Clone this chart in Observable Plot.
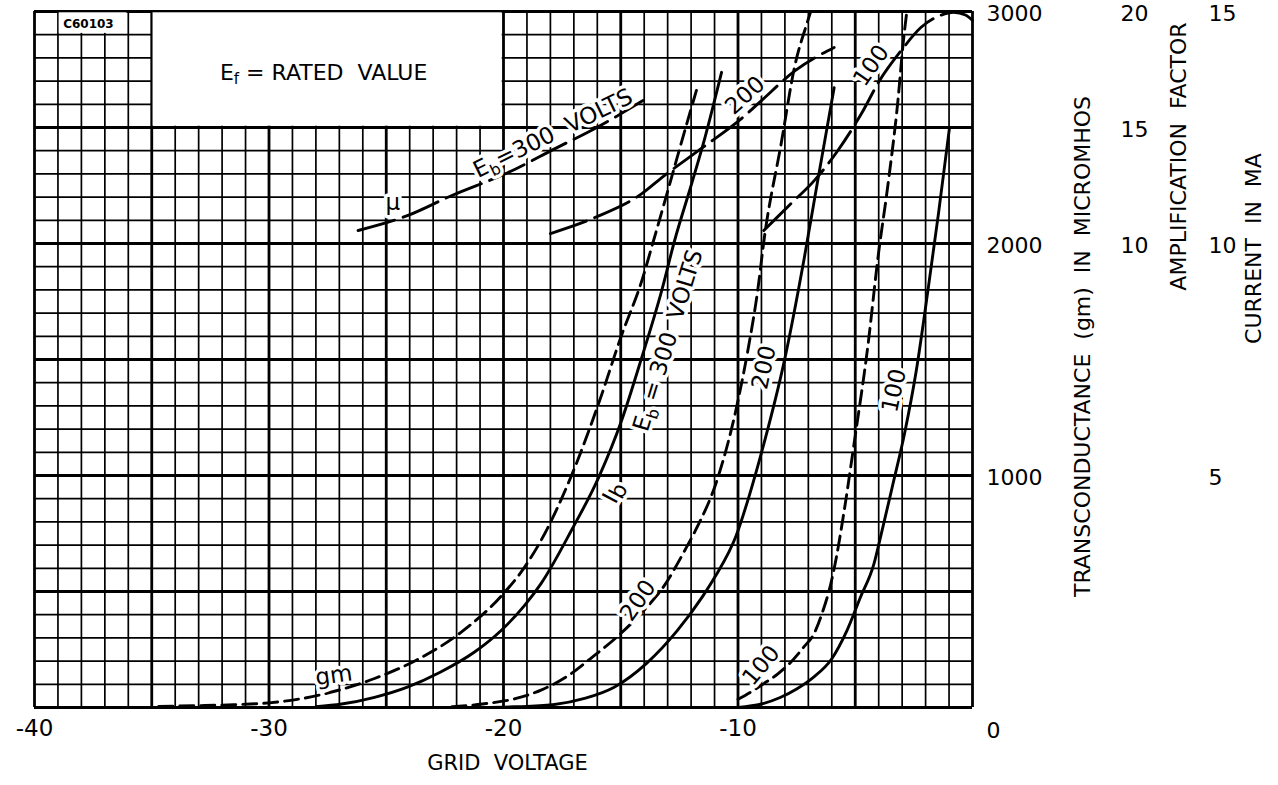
<!DOCTYPE html>
<html><head><meta charset="utf-8">
<script src="https://cdn.jsdelivr.net/npm/d3@7"></script>
<script src="https://cdn.jsdelivr.net/npm/@observablehq/plot@0.6"></script>
<style>
html,body{margin:0;padding:0;background:#fff;}
#chart svg{display:block}
#chart svg text{white-space:pre}
</style></head><body><div id="chart"></div>
<script>
// ---- Transconductance gm (micromhos) vs grid voltage (dashed) ----
const gm300V = [-34.7, -33.0, -31.5, -30.0, -28.8, -27.5, -25.5, -23.7, -21.8, -20.1, -19.1, -18.4, -17.1, -15.9, -15.0, -14.1, -13.6, -13.0, -12.4, -11.75];
const gm300  = [5, 8, 12, 20, 35, 62, 125, 205, 325, 480, 605, 720, 1000, 1323, 1595, 1840, 2013, 2225, 2440, 2668];
const gm200V = [-22.2, -20.9, -19.5, -18.4, -17.2, -16.3, -15.0, -14.0, -13.2, -12.2, -11.75, -10.9, -10.0, -9.58, -9.16, -8.87, -8.16, -7.59, -7.02, -6.9];
const gm200  = [3, 15, 38, 75, 140, 210, 319, 420, 517, 690, 776, 978, 1323, 1539, 1797, 2030, 2430, 2760, 2961, 3000];
const gm100V = [-10.0, -9.4, -8.9, -8.3, -7.8, -7.2, -6.75, -6.4, -6.05, -5.8, -5.5, -5.03, -4.46, -4.03, -3.61, -3.18, -2.95, -2.8];
const gm100  = [35, 70, 103, 145, 190, 260, 320, 410, 530, 650, 830, 1151, 1560, 1940, 2250, 2616, 2870, 3000];

// ---- Plate current Ib (mA) vs grid voltage (solid) ----
const ib300V = [-28.0, -26.9, -25.5, -24.1, -22.7, -21.25, -20.1, -19.1, -18.4, -17.1, -15.94, -14.96, -14.1, -13.25, -12.7, -12.0, -11.4, -10.7];
const ib300  = [0.015, 0.075, 0.22, 0.44, 0.76, 1.19, 1.66, 2.2, 2.67, 3.82, 4.96, 6.19, 7.55, 8.99, 10.07, 11.25, 12.3, 13.69];
const ib200V = [-21.0, -19.5, -17.9, -16.5, -15.3, -13.9, -12.6, -11.5, -11.0, -10.08, -9.5, -9.01, -8.02, -7.17, -6.6, -5.9];
const ib200  = [0, 0.015, 0.06, 0.2, 0.43, 0.95, 1.65, 2.4, 2.8, 3.7, 4.6, 5.47, 7.48, 9.7, 11.36, 13.36];
const ib100V = [-10.0, -9.0, -8.2, -7.5, -6.8, -6.0, -5.36, -4.8, -4.2, -3.9, -3.4, -2.9, -2.4, -1.9, -1.45, -0.98];
const ib100  = [0, 0.075, 0.215, 0.4, 0.645, 1.05, 1.65, 2.35, 3.1, 3.72, 4.8, 5.9, 7.25, 8.99, 10.65, 12.5];

// ---- Amplification factor mu vs grid voltage (long dash) ----
const mu300V = [-26.2, -24.1, -22.2, -19.8, -17.8, -16.1, -14.05];
const mu300  = [10.56, 11.2, 12.07, 13.06, 14.09, 14.96, 16.16];
const mu200V = [-18.0, -16.1, -14.1, -13.25, -11.5, -9.8, -9.0, -7.55, -5.9];
const mu200  = [10.43, 11.12, 12.15, 12.84, 14.14, 15.43, 16.16, 17.46, 18.45];
const mu100V = [-8.9, -7.8, -6.74, -5.74, -4.74, -3.96, -3.04, -2.19, -1.4, -0.8, -0.3, 0];
const mu100  = [10.56, 11.66, 12.72, 14.01, 15.59, 17.03, 18.32, 19.32, 19.82, 19.97, 19.85, 19.62];

// ---- axes / ticks ----
const xTicks = [-40, -30, -20, -10];
const gmTicks = [1000, 2000, 3000];
const muTicks = [10, 15, 20];
const maTicks = [5, 10, 15];

// ---- curve labels (grid volts, position on the gm scale, angle) ----
const labelText  = ["gm", "Ib", "Eb = 300  VOLTS", "μ", "Eb=300  VOLTS", "200", "100", "200", "100", "200", "100"];
const labelV     = [-27.24, -15.29, -12.98, -24.72, -17.89, -9.70, -4.32, -14.26, -9.01, -8.89, -3.34];
const labelGm    = [138, 927, 1582, 2177, 2474, 2638, 2767, 461, 181, 1466, 1366];
const labelAngle = [-8, -62, -73, 0, -26, -42, -55, -55, -50, -78, -78];

// ---- blank areas of the grid (inset title box and drawing number cell) ----
const blankX1 = [-35, -39], blankX2 = [-20, -36], blankY1 = [2500, 2900], blankY2 = [3000, 3000];

// unit conversions onto the shared left-hand grid (gm scale)
const muToGm = (m) => 1000 + 100 * m;   // 10 -> 2000, 20 -> 3000
const maToGm = (i) => 200 * i;          // 5 -> 1000, 15 -> 3000

function rows(series, kind, vs, vals, conv) {
  return vs.map((v, i) => ({series, kind, v, y: conv(vals[i])}));
}
const id = (d) => d;
const data = [
  ...rows("gm300", "gm", gm300V, gm300, id),
  ...rows("gm200", "gm", gm200V, gm200, id),
  ...rows("gm100", "gm", gm100V, gm100, id),
  ...rows("ib300", "ib", ib300V, ib300, maToGm),
  ...rows("ib200", "ib", ib200V, ib200, maToGm),
  ...rows("ib100", "ib", ib100V, ib100, maToGm),
  ...rows("mu300", "mu", mu300V, mu300, muToGm),
  ...rows("mu200", "mu", mu200V, mu200, muToGm),
  ...rows("mu100", "mu", mu100V, mu100, muToGm)
];
const labels = labelText.map((t, i) => ({t, v: labelV[i], y: labelGm[i], a: labelAngle[i]}));
const blanks = blankX1.map((x1, i) => ({x1, x2: blankX2[i], y1: blankY1[i], y2: blankY2[i]}));

const minorX = d3.range(-40, 0.001, 1).filter(v => v % 5 !== 0);
const majorX = d3.range(-40, 0.001, 5);
const minorY = d3.range(0, 3000.1, 100).filter(v => v % 500 !== 0);
const majorY = d3.range(0, 3000.1, 500);

const F = "DejaVu Sans, Liberation Sans, sans-serif";
const fmt = (d) => String(d);

const plot = Plot.plot({
  width: 1278, height: 785,
  marginLeft: 34, marginRight: 306, marginTop: 11, marginBottom: 78,
  x: {domain: [-40, 0]},
  y: {domain: [0, 3000]},
  style: {fontFamily: F, background: "white", color: "black"},
  marks: [
    Plot.ruleX(minorX, {stroke: "black", strokeWidth: 1.7}),
    Plot.ruleY(minorY, {stroke: "black", strokeWidth: 1.7}),
    Plot.ruleX(majorX, {stroke: "black", strokeWidth: 2.8}),
    Plot.ruleY(majorY, {stroke: "black", strokeWidth: 2.8}),
    Plot.rect(blanks, {x1: "x1", x2: "x2", y1: "y1", y2: "y2", fill: "white", inset: 1.3}),
    Plot.line(data.filter(d => d.kind === "gm"), {x: "v", y: "y", z: "series", stroke: "black", strokeWidth: 2.9, strokeDasharray: "14,7", curve: "monotone-x"}),
    Plot.line(data.filter(d => d.kind === "ib"), {x: "v", y: "y", z: "series", stroke: "black", strokeWidth: 2.9, curve: "monotone-x"}),
    Plot.line(data.filter(d => d.kind === "mu"), {x: "v", y: "y", z: "series", stroke: "black", strokeWidth: 2.9, strokeDasharray: "38,9", curve: "monotone-x"}),
    Plot.text(labels, {x: "v", y: "y", text: "t", rotate: "a", fontSize: 23, fill: "black", stroke: "white", strokeWidth: 7, strokeLinejoin: "round", paintOrder: "stroke"}),
    Plot.text(["C60103"], {x: () => -37.7, y: () => 2944, fontSize: 12, fontWeight: "bold"}),
    Plot.text(["Ef = RATED  VALUE"], {x: () => -27.67, y: () => 2737, fontSize: 22}),
    // axes
    Plot.axisX(xTicks, {tickSize: 0, tickPadding: 12, fontSize: 23, tickFormat: fmt, label: null}),
    Plot.text(["GRID  VOLTAGE"], {frameAnchor: "bottom", dy: 62, dx: 4, fontSize: 21}),
    Plot.axisY(gmTicks, {anchor: "right", tickSize: 0, tickPadding: 14, fontSize: 22, textAnchor: "start", tickFormat: fmt, dy: 2, label: null}),
    Plot.axisY([0], {anchor: "right", tickSize: 0, tickPadding: 14, fontSize: 22, textAnchor: "start", tickFormat: fmt, dy: 23, label: null}),
    Plot.axisY(muTicks.map(muToGm), {anchor: "right", tickSize: 0, tickPadding: 148, fontSize: 22, textAnchor: "start", tickFormat: g => String((g - 1000) / 100), dy: 2, label: null}),
    Plot.axisY(maTicks.map(maToGm), {anchor: "right", tickSize: 0, tickPadding: 236, fontSize: 22, textAnchor: "start", tickFormat: g => String(g / 200), dy: 2, label: null}),
    Plot.text(["TRANSCONDUCTANCE  (gm)  IN  MICROMHOS"], {frameAnchor: "right", textAnchor: "middle", dx: 110, dy: -13, rotate: -90, fontSize: 22}),
    Plot.text(["AMPLIFICATION  FACTOR"], {frameAnchor: "right", textAnchor: "middle", dx: 206, dy: -203, rotate: -90, fontSize: 22}),
    Plot.text(["CURRENT  IN  MA"], {frameAnchor: "right", textAnchor: "middle", dx: 281, dy: -111, rotate: -90, fontSize: 22})
  ]
});

// subscripts for E_f, E_b, I_b
d3.select(plot).selectAll("text").each(function() {
  const t = this.textContent;
  if (/^[EI][bf]/.test(t)) {
    const isI = t[0] === "I";
    const sel = d3.select(this);
    sel.text(null);
    sel.append("tspan").text(t[0]);
    sel.append("tspan").attr("font-size", isI ? "0.95em" : "0.68em").attr("dy", isI ? "0.15em" : "0.32em").text(t[1]);
    if (t.length > 2) sel.append("tspan").attr("dy", "-0.22em").text(t.slice(2));
  }
});

document.getElementById("chart").appendChild(plot);
</script>
</body></html>
